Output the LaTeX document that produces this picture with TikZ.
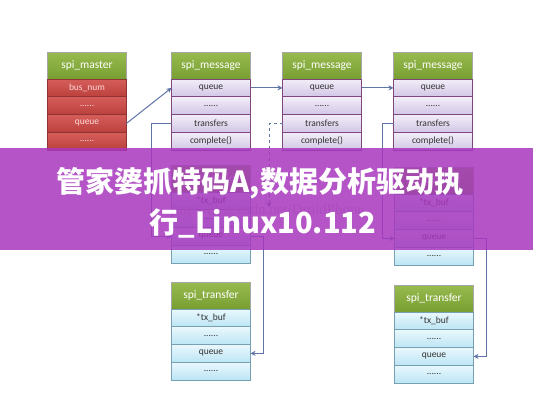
\documentclass[tikz,border=0pt]{standalone}
\usepackage{fontspec}
\setmainfont{Carlito}
\newfontfamily\cjk{Noto Sans CJK SC}
\newfontfamily\wm{Liberation Serif}
\usetikzlibrary{arrows.meta}
\definecolor{hdtop}{RGB}{152,187,78}
\definecolor{hdbot}{RGB}{120,158,50}
\definecolor{redtop}{RGB}{214,94,90}
\definecolor{redbot}{RGB}{186,64,60}
\definecolor{msgtop}{RGB}{242,238,248}
\definecolor{msgbot}{RGB}{210,198,230}
\definecolor{trtop}{RGB}{234,248,253}
\definecolor{trbot}{RGB}{188,229,244}
\definecolor{linkc}{RGB}{96,116,168}
\definecolor{band}{RGB}{167,55,190}
\tikzset{bx/.append style={draw, minimum width=79pt, inner sep=0pt, outer sep=0pt, line width=0.6pt}}
\tikzset{hd/.append style={bx, draw=gray!70, minimum height=27pt, top color=hdtop, bottom color=hdbot, text=white, font=\fontsize{11.5}{12}\selectfont}}
\tikzset{mr/.append style={bx, draw=red!45!black!80, minimum height=17.75pt, top color=redtop, bottom color=redbot, text=white!85!red, font=\fontsize{9.5}{10}\selectfont}}
\tikzset{mg/.append style={bx, draw=violet!45!gray, minimum height=17.75pt, top color=msgtop, bottom color=msgbot, text=black!80, font=\fontsize{9.5}{10}\selectfont}}
\tikzset{tr/.append style={bx, draw=cyan!35!gray, minimum height=17.75pt, top color=trtop, bottom color=trbot, text=black!80, font=\fontsize{9.5}{10}\selectfont}}
\tikzset{link/.append style={draw=linkc, line width=1pt, -{Stealth[length=5pt,width=5pt]}}}

\begin{document}
\begin{tikzpicture}[x=1pt,y=-1pt]
    \fill[white] (0,0) rectangle (533,400);
    % spi_master
    \node[hd] (mh) at (87,65.5) {spi\_master};
    \node[mr] (mbus) at (87,87.875) {bus\_num};
    \node[mr] (md1) at (87,105.625) {......};
    \node[mr] (mq) at (87,123.375) {queue};
    \node[mr] (md2) at (87,141.125) {......};
    % spi_message x3
    \node[hd] (ah) at (211,65.5) {spi\_message};
    \node[mg] (aq) at (211,87.875) {queue};
    \node[mg] (ad) at (211,105.625) {......};
    \node[mg] (at) at (211,123.375) {transfers};
    \node[mg] (ac) at (211,141.125) {complete()};
    \node[hd] (bh) at (322,65.5) {spi\_message};
    \node[mg] (bq) at (322,87.875) {queue};
    \node[mg] (bd) at (322,105.625) {......};
    \node[mg] (bt) at (322,123.375) {transfers};
    \node[mg] (bc) at (322,141.125) {complete()};
    \node[hd] (ch) at (433,65.5) {spi\_message};
    \node[mg] (cq) at (433,87.875) {queue};
    \node[mg] (cd) at (433,105.625) {......};
    \node[mg] (ct) at (433,123.375) {transfers};
    \node[mg] (cc) at (433,141.125) {complete()};
    % spi_transfer x4
    \node[hd] (t1h) at (211,178.5) {spi\_transfer};
    \node[tr] (t1b) at (211,200.875) {*tx\_buf};
    \node[tr] (t1d) at (211,218.625) {......};
    \node[tr] (t1q) at (211,236.375) {queue};
    \node[tr] (t1e) at (211,254.125) {......};
    \node[hd] (t2h) at (211,295.5) {spi\_transfer};
    \node[tr] (t2b) at (211,317.875) {*tx\_buf};
    \node[tr] (t2d) at (211,335.625) {......};
    \node[tr] (t2q) at (211,353.375) {queue};
    \node[tr] (t2e) at (211,371.125) {......};
    \node[hd] (t3h) at (434,180.5) {spi\_transfer};
    \node[tr] (t3b) at (434,202.875) {*tx\_buf};
    \node[tr] (t3d) at (434,220.625) {......};
    \node[tr] (t3q) at (434,238.375) {queue};
    \node[tr] (t3e) at (434,256.125) {......};
    \node[hd] (t4h) at (434,298.5) {spi\_transfer};
    \node[tr] (t4b) at (434,320.875) {*tx\_buf};
    \node[tr] (t4d) at (434,338.625) {......};
    \node[tr] (t4q) at (434,356.375) {queue};
    \node[tr] (t4e) at (434,374.125) {......};
    % links
    \coordinate (nul) at (269,207);
    \path[link] (mq.east) -- (aq.west);
    \path[link] (aq.east) -- (bq.west);
    \path[link] (bq.east) -- (cq.west);
    \path[link] (at.west) -- ++(-20,0) |- (t1q.west);
    \path[link] (t1q.east) -- ++(13,0) |- (t2q.east);
    \path[link,dashed] (bt.west) -| (nul);
    \path[link] (ct.west) -- ++(-11,0) |- (t3q.west);
    \path[link] (t3q.east) -- ++(13,0) |- (t4q.east);
    % watermark and banner
    \node[text=gray!45, font=\wm\fontsize{15}{16}\selectfont] (url) at (268,211) {http://blog.csdn.net/DroidPhone};
    \fill[band, opacity=0.85] (0,148) rectangle (533,250);
    \node[text=white, font=\cjk\bfseries\fontsize{29}{32}\selectfont] (ttl1) at (260,183) {管家婆抓特码A,数据分析驱动执};
    \node[text=white, font=\cjk\bfseries\fontsize{29}{32}\selectfont] (ttl2) at (263,223) {行\_Linux10.112};
\end{tikzpicture}
\end{document}
